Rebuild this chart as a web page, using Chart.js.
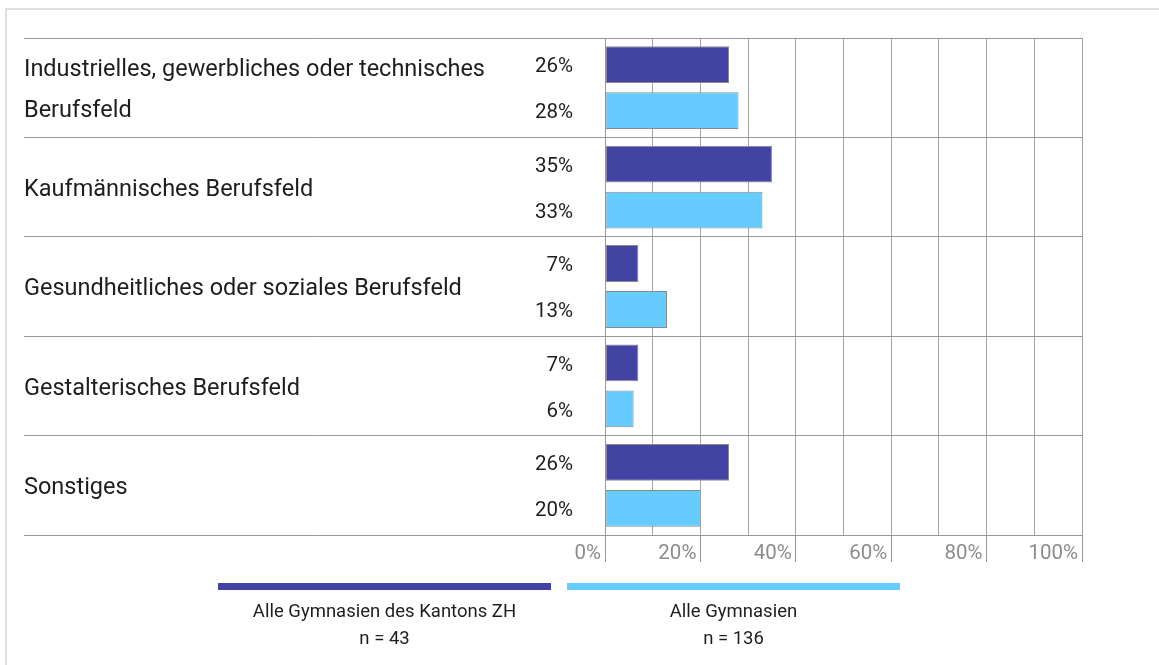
<!DOCTYPE html>
<html>
<head>
<meta charset="utf-8">
<script src="https://cdn.jsdelivr.net/npm/chart.js@4/dist/chart.umd.min.js"></script>
<style>
    html, body { margin: 0; padding: 0; background: #fff; }
    #frame {
        position: absolute; left: 5px; top: 8px; right: 0; bottom: 0;
        border-top: 2px solid #dedede; border-left: 2px solid #dedede;
    }
    #wrap { position: absolute; left: 0; top: 0; width: 1159px; height: 665px; }
</style>
</head>
<body>
<div id="frame"></div>
<div id="wrap"><canvas id="chart"></canvas></div>
<script>
// Berufsfeld der Lehrstelle
const categories = [
    ['Industrielles, gewerbliches oder technisches', 'Berufsfeld'],
    'Kaufmännisches Berufsfeld',
    'Gesundheitliches oder soziales Berufsfeld',
    'Gestalterisches Berufsfeld',
    'Sonstiges'
];
const seriesNames = ['Alle Gymnasien des Kantons ZH', 'Alle Gymnasien'];
const seriesN = ['n = 43', 'n = 136'];
const zhValues = [26, 35, 7, 7, 26];
const allValues = [28, 33, 13, 6, 20];
const xTicks = [0, 20, 40, 60, 80, 100];

const colors = ['#4343a3', '#66ccff'];
const FONT = 'Roboto, "DejaVu Sans", sans-serif';

// category names, value labels and x tick labels
const sideLabels = {
    id: 'sideLabels',
    afterDatasetsDraw(chart) {
        const { ctx, scales: { x, y } } = chart;
        ctx.save();
        ctx.fillStyle = '#1e1e1e';
        ctx.textBaseline = 'middle';
        ctx.textAlign = 'left';
        ctx.font = '23.5px ' + FONT;
        categories.forEach((cat, i) => {
            const lines = Array.isArray(cat) ? cat : [cat];
            const cy = y.getPixelForValue(i) + 3;
            lines.forEach((line, k) => {
                ctx.fillText(line, y.left, cy + (k - (lines.length - 1) / 2) * 41);
            });
        });
        ctx.textAlign = 'right';
        ctx.font = '20.5px ' + FONT;
        chart.data.datasets.forEach((ds, d) => {
            chart.getDatasetMeta(d).data.forEach((bar, i) => {
                ctx.fillText(ds.data[i] + '%', chart.chartArea.left - 32, bar.y + 2.5);
            });
        });
        // tick labels sit left of their tick line
        ctx.fillStyle = '#8c8c8c';
        xTicks.forEach((v) => {
            ctx.fillText(v + '%', x.getPixelForValue(v) - 4, x.top + 18.5);
        });
        ctx.restore();
    }
};

// legend: coloured strip, name and n below
const stripLegend = {
    id: 'stripLegend',
    afterDraw(chart) {
        const { ctx } = chart;
        const left = 218, width = 333, gap = 16, top = 583;
        ctx.save();
        ctx.textAlign = 'center';
        ctx.textBaseline = 'middle';
        seriesNames.forEach((name, i) => {
            const x = left + i * (width + gap);
            ctx.fillStyle = colors[i];
            ctx.fillRect(x, top, width, 7);
            ctx.fillStyle = '#1e1e1e';
            ctx.font = '18.5px ' + FONT;
            ctx.fillText(name, x + width / 2, top + 29);
            ctx.fillText(seriesN[i], x + width / 2, top + 56);
        });
        ctx.restore();
    }
};

new Chart(document.getElementById('chart'), {
    type: 'bar',
    data: {
        labels: categories,
        datasets: [
            {
                label: seriesNames[0],
                data: zhValues,
                backgroundColor: colors[0],
                borderColor: '#8a8a8a',
                borderWidth: 1,
                borderSkipped: false
            },
            {
                label: seriesNames[1],
                data: allValues,
                backgroundColor: colors[1],
                borderColor: '#8a8a8a',
                borderWidth: 1,
                borderSkipped: false
            }
        ]
    },
    options: {
        indexAxis: 'y',
        responsive: true,
        maintainAspectRatio: false,
        animation: false,
        categoryPercentage: 0.925,
        barPercentage: 0.8,
        layout: { padding: { left: 24, top: 38, right: 77, bottom: 103 } },
        plugins: {
            legend: { display: false },
            tooltip: { enabled: false },
            title: { display: false }
        },
        scales: {
            x: {
                min: 0,
                max: 100,
                grid: {
                    color: '#a4a4a4',
                    tickLength: 27,
                    tickColor: (c) => xTicks.includes(c.tick.value) ? '#999' : 'rgba(0,0,0,0)'
                },
                border: { color: '#999' },
                ticks: { stepSize: 10, display: false }
            },
            y: {
                grid: {
                    offset: true,
                    color: '#999',
                    tickLength: 581
                },
                border: { color: '#999' },
                ticks: { display: false }
            }
        }
    },
    plugins: [sideLabels, stripLegend]
});
</script>
</body>
</html>
